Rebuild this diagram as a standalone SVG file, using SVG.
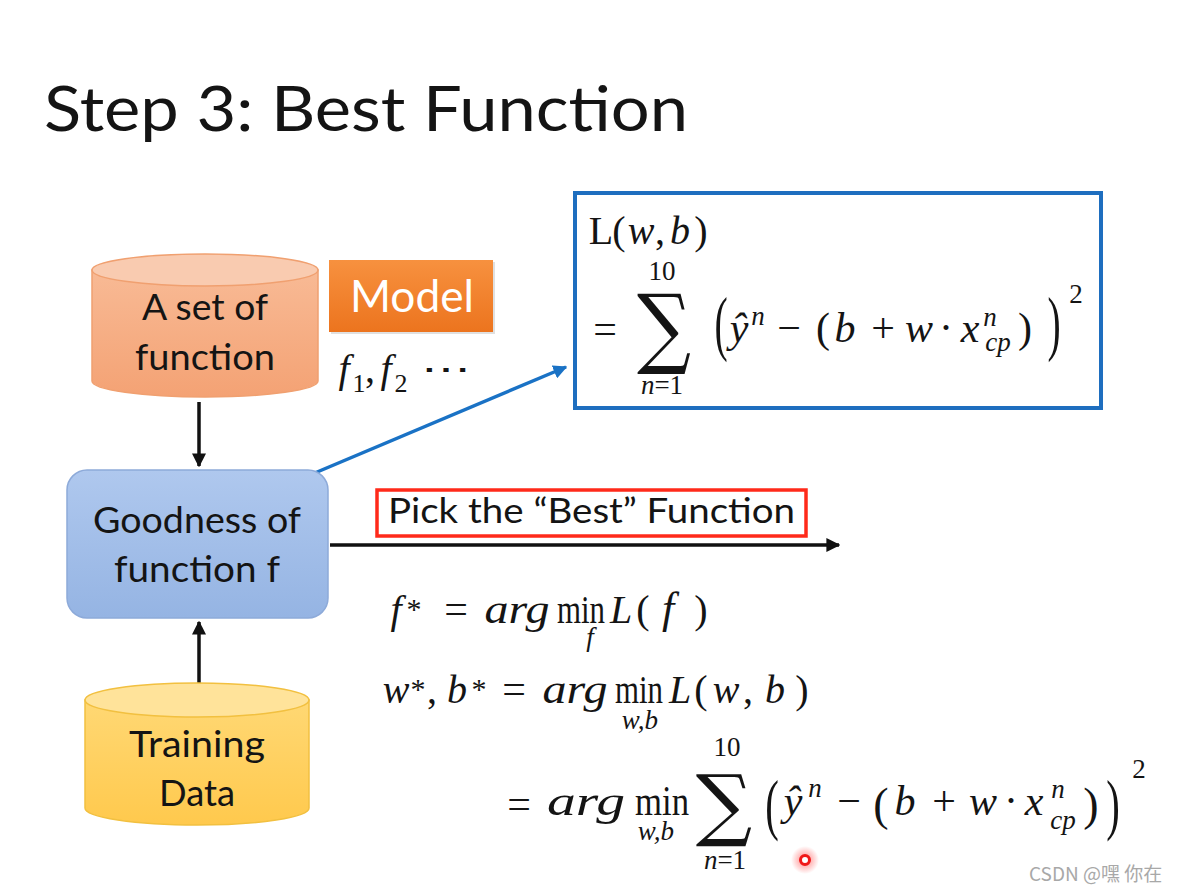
<svg xmlns="http://www.w3.org/2000/svg" width="1181" height="892" viewBox="0 0 1181 892">
<defs>
<style>
.t{font-family:Lato,"Liberation Sans",sans-serif;fill:#141414}
.m{font-family:"Liberation Serif","DejaVu Serif",serif;fill:#141414;text-anchor:middle}
.i{font-style:italic}
.o{font-size:42px}
.v{font-size:40px}
.w{font-size:42px}
.s{font-size:27px}
.sig{font-family:"DejaVu Serif","Liberation Serif",serif;fill:#141414;text-anchor:middle}
.conn{stroke:#111;stroke-width:3.5;fill:none}
</style>
<linearGradient id="gOr" x1="0" y1="0" x2="0" y2="1"><stop offset="0" stop-color="#F8BA95"/><stop offset="1" stop-color="#F4A274"/></linearGradient>
<linearGradient id="gMod" x1="0" y1="0" x2="0" y2="1"><stop offset="0" stop-color="#F7913F"/><stop offset="1" stop-color="#EC741E"/></linearGradient>
<linearGradient id="gBl" x1="0" y1="0" x2="0" y2="1"><stop offset="0" stop-color="#AFC8EE"/><stop offset="1" stop-color="#95B4E3"/></linearGradient>
<linearGradient id="gYe" x1="0" y1="0" x2="0" y2="1"><stop offset="0" stop-color="#FFD874"/><stop offset="1" stop-color="#FFC94D"/></linearGradient>
<radialGradient id="gDot"><stop offset="0" stop-color="#FF3030" stop-opacity="0.6"/><stop offset="1" stop-color="#FF3030" stop-opacity="0"/></radialGradient>
<marker id="ah" viewBox="0 0 10 10" refX="9" refY="5" markerWidth="4" markerHeight="4" orient="auto" markerUnits="strokeWidth"><path d="M0,0 L10,5 L0,10 Z" fill="#111"/></marker>
<marker id="ahb" viewBox="0 0 10 10" refX="9" refY="5" markerWidth="4" markerHeight="4" orient="auto" markerUnits="strokeWidth"><path d="M0,0 L10,5 L0,10 Z" fill="#1A72C5"/></marker>
</defs>
<rect width="1181" height="892" fill="#fff"/>

<text class="t" x="44" y="131" font-size="62" textLength="644" lengthAdjust="spacingAndGlyphs">Step 3: Best Function</text>

<g id="connectors">
<line class="conn" x1="199" y1="402" x2="199" y2="466" marker-end="url(#ah)"/>
<line class="conn" x1="199" y1="697" x2="199" y2="622" marker-end="url(#ah)"/>
<line class="conn" x1="330" y1="545" x2="839" y2="545" marker-end="url(#ah)"/>
<line x1="310" y1="475" x2="566" y2="367" stroke="#1A72C5" stroke-width="3.5" marker-end="url(#ahb)"/>
</g>

<g id="set-of-function">
<path d="M92,270 L92,381 A113,16 0 0 0 318,381 L318,270 Z" fill="url(#gOr)" stroke="#F0A070" stroke-width="1.5"/>
<ellipse cx="205" cy="270" rx="113" ry="16" fill="#F9CBB0" stroke="#F0A070" stroke-width="1.5"/>
<text class="t" x="205" y="320" font-size="37" text-anchor="middle" textLength="126" lengthAdjust="spacingAndGlyphs">A set of</text>
<text class="t" x="205" y="370" font-size="37" text-anchor="middle" textLength="140" lengthAdjust="spacingAndGlyphs">function</text>
</g>

<g id="model">
<rect x="331" y="262" width="164" height="72" fill="#000" opacity="0.12"/>
<rect x="329" y="260" width="164" height="72" fill="url(#gMod)"/>
<text class="t" x="412" y="312" font-size="44" text-anchor="middle" style="fill:#fff" textLength="124" lengthAdjust="spacingAndGlyphs">Model</text>
</g>

<g id="f-list">
<text class="m i" x="344" y="382" font-size="40">f</text>
<text class="m" x="359" y="392" font-size="26">1</text>
<text class="m" x="370" y="382" font-size="40">,</text>
<text class="m i" x="386" y="382" font-size="40">f</text>
<text class="m" x="401" y="392" font-size="26">2</text>
<text class="m" x="446" y="380" font-size="32" textLength="50" lengthAdjust="spacingAndGlyphs">⋯</text>
</g>

<g id="goodness">
<rect x="67" y="470" width="261" height="148" rx="20" fill="url(#gBl)" stroke="#8DAAD9" stroke-width="1.5"/>
<text class="t" x="197" y="533" font-size="37" text-anchor="middle" textLength="208" lengthAdjust="spacingAndGlyphs">Goodness of</text>
<text class="t" x="197" y="582" font-size="37" text-anchor="middle" textLength="166" lengthAdjust="spacingAndGlyphs">function f</text>
</g>

<g id="training-data">
<path d="M85,700 L85,808 A112,17 0 0 0 309,808 L309,700 Z" fill="url(#gYe)" stroke="#F2C040" stroke-width="1.5"/>
<ellipse cx="197" cy="700" rx="112" ry="17" fill="#FFE39A" stroke="#F2C040" stroke-width="1.5"/>
<text class="t" x="197" y="757" font-size="37" text-anchor="middle" textLength="136" lengthAdjust="spacingAndGlyphs">Training</text>
<text class="t" x="197" y="806" font-size="37" text-anchor="middle" textLength="76" lengthAdjust="spacingAndGlyphs">Data</text>
</g>

<g id="loss-box">
<rect x="575" y="193" width="526" height="215" fill="#fff" stroke="#1E6EBF" stroke-width="4"/>
<text class="m v" x="601" y="244">L</text>
<text class="m v" x="619" y="244">(</text>
<text class="m v i" x="641" y="244">w</text>
<text class="m v" x="660" y="244">,</text>
<text class="m v i" x="680" y="244">b</text>
<text class="m v" x="701" y="244">)</text>
<text class="m s" x="662" y="280">10</text>
<text class="m o" x="605" y="343">=</text>
<text class="sig" transform="translate(664,357) scale(0.86,1)" font-size="88">∑</text>
<text class="m s" x="662" y="394"><tspan class="i">n</tspan>=1</text>
<text class="m" transform="translate(721,347) scale(0.55,1)" font-size="72">(</text>
<text class="m w i" x="739" y="342">ŷ</text>
<text class="m s i" x="758" y="325">n</text>
<text class="m o" x="789" y="342">−</text>
<text class="m w" x="823" y="342">(</text>
<text class="m w i" x="845" y="342">b</text>
<text class="m o" x="883" y="342">+</text>
<text class="m w i" x="919" y="342">w</text>
<text class="m w" x="946" y="342">·</text>
<text class="m w i" x="970" y="342">x</text>
<text class="m s i" x="990" y="326">n</text>
<text class="m s i" x="998" y="351">cp</text>
<text class="m w" x="1025" y="342">)</text>
<text class="m" transform="translate(1054,347) scale(0.55,1)" font-size="72">)</text>
<text class="m s" x="1076" y="303">2</text>
</g>

<g id="pick-best">
<rect x="377" y="490" width="429" height="46" fill="#fff" stroke="#FF2A1A" stroke-width="3.5"/>
<text class="t" x="388" y="523" font-size="34" textLength="407" lengthAdjust="spacingAndGlyphs">Pick the “Best” Function</text>
</g>

<g id="eq1">
<text class="m v i" x="396" y="623">f</text>
<text class="m" x="414" y="619" font-size="30">*</text>
<text class="m o" x="456" y="623">=</text>
<text class="m v i" x="517" y="623" textLength="65" lengthAdjust="spacingAndGlyphs">arg</text>
<text class="m v" x="581" y="623" textLength="48" lengthAdjust="spacingAndGlyphs">min</text>
<text class="m s i" x="590" y="646">f</text>
<text class="m v i" x="621" y="623">L</text>
<text class="m v" x="643" y="623">(</text>
<text class="m i" x="668" y="623" font-size="44">f</text>
<text class="m v" x="701" y="623">)</text>
</g>

<g id="eq2">
<text class="m v i" x="396" y="703">w</text>
<text class="m" x="418" y="699" font-size="30">*</text>
<text class="m v" x="432" y="703">,</text>
<text class="m v i" x="457" y="703">b</text>
<text class="m" x="479" y="699" font-size="30">*</text>
<text class="m o" x="514" y="703">=</text>
<text class="m v i" x="575" y="703" textLength="65" lengthAdjust="spacingAndGlyphs">arg</text>
<text class="m v" x="639" y="703" textLength="48" lengthAdjust="spacingAndGlyphs">min</text>
<text class="m s i" x="640" y="729">w,b</text>
<text class="m v i" x="680" y="703">L</text>
<text class="m v" x="701" y="703">(</text>
<text class="m v i" x="726" y="703">w</text>
<text class="m v" x="748" y="703">,</text>
<text class="m v i" x="775" y="703">b</text>
<text class="m v" x="802" y="703">)</text>
</g>

<g id="eq3">
<text class="m o" x="519" y="818">=</text>
<text class="m w i" x="586" y="815" textLength="78" lengthAdjust="spacingAndGlyphs">arg</text>
<text class="m w" x="662" y="815" textLength="54" lengthAdjust="spacingAndGlyphs">min</text>
<text class="m s i" x="656" y="840">w,b</text>
<text class="m s" x="727" y="756">10</text>
<text class="sig" transform="translate(724,831) scale(1,1)" font-size="79">∑</text>
<text class="m s" x="725" y="869"><tspan class="i">n</tspan>=1</text>
<text class="m" transform="translate(772,827) scale(0.6,1)" font-size="68">(</text>
<text class="m w i" x="793" y="815">ŷ</text>
<text class="m s i" x="815" y="797">n</text>
<text class="m o" x="849" y="815">−</text>
<text class="m" x="881" y="820" font-size="46">(</text>
<text class="m w i" x="905" y="815">b</text>
<text class="m o" x="944" y="815">+</text>
<text class="m w i" x="983" y="815">w</text>
<text class="m w" x="1011" y="815">·</text>
<text class="m w i" x="1034" y="815">x</text>
<text class="m s i" x="1058" y="798">n</text>
<text class="m s i" x="1063" y="829">cp</text>
<text class="m" x="1091" y="820" font-size="46">)</text>
<text class="m" transform="translate(1113,827) scale(0.6,1)" font-size="68">)</text>
<text class="m s" x="1139" y="778">2</text>
</g>

<g id="pointer">
<circle cx="805" cy="860" r="14" fill="url(#gDot)"/>
<circle cx="805" cy="860" r="4.5" fill="#fff" stroke="#F01818" stroke-width="3"/>
</g>

<text x="1029" y="881" font-family="'Noto Sans CJK SC','Noto Sans',sans-serif" font-size="19" fill="#A8A8A8">CSDN @嘿 你在</text>
</svg>
